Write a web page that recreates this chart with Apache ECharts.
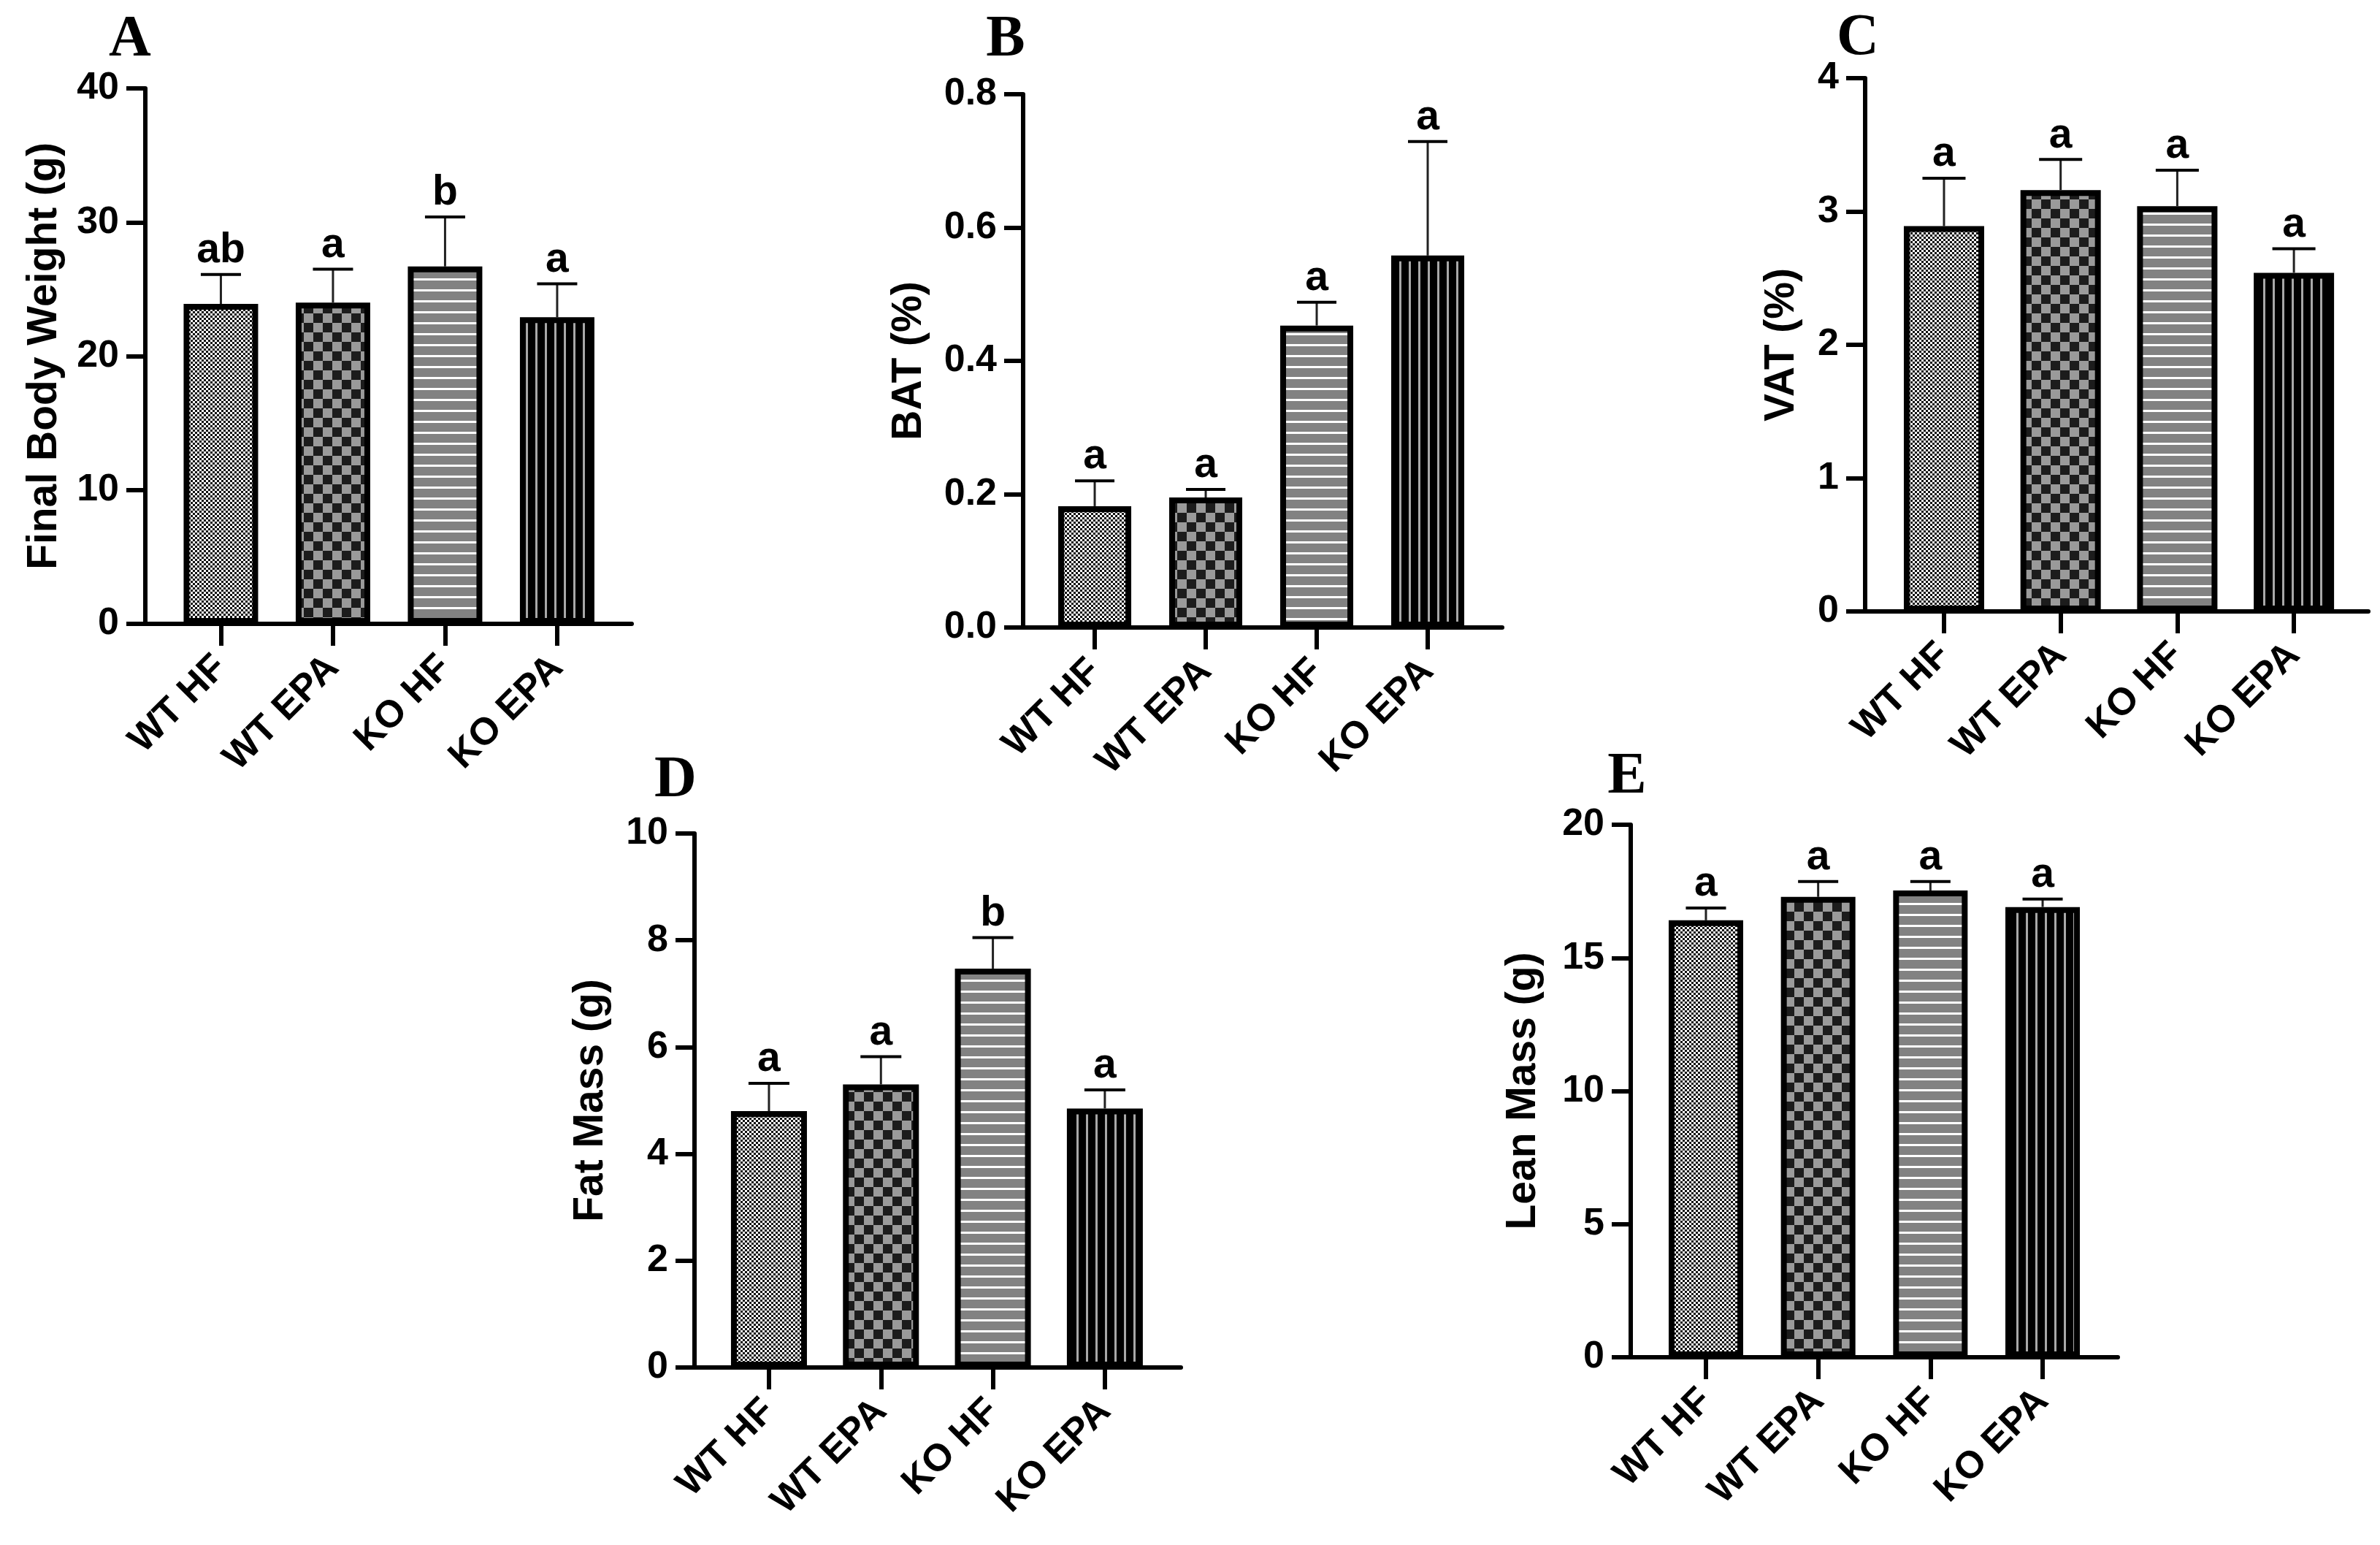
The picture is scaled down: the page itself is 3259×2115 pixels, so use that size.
<!DOCTYPE html>
<html><head><meta charset="utf-8">
<script src="https://cdn.jsdelivr.net/npm/echarts@6/dist/echarts.min.js"></script>
<style>html,body{margin:0;padding:0;background:#fff}#c{width:3259px;height:2115px}</style>
</head><body><div id="c"></div>
<script>
// ---------------- data ----------------
const categories = ['WT HF', 'WT EPA', 'KO HF', 'KO EPA'];

const bodyWeight = [23.9, 24.0, 26.7, 22.9];
const bodyWeightSem = [2.2, 2.5, 3.7, 2.5];
const bodyWeightLetters = ['ab', 'a', 'b', 'a'];

const bat = [0.182, 0.195, 0.453, 0.558];
const batSem = [0.038, 0.012, 0.035, 0.171];
const batLetters = ['a', 'a', 'a', 'a'];

const vat = [2.89, 3.16, 3.04, 2.54];
const vatSem = [0.36, 0.23, 0.27, 0.18];
const vatLetters = ['a', 'a', 'a', 'a'];

const fatMass = [4.80, 5.30, 7.47, 4.85];
const fatMassSem = [0.52, 0.52, 0.58, 0.35];
const fatMassLetters = ['a', 'a', 'b', 'a'];

const leanMass = [16.41, 17.29, 17.53, 16.91];
const leanMassSem = [0.46, 0.58, 0.34, 0.30];
const leanMassLetters = ['a', 'a', 'a', 'a'];

// y axis ranges [min, max, interval] and tick decimals
const yAxisA = [0, 40, 10, 0];
const yAxisB = [0, 0.8, 0.2, 1];
const yAxisC = [0, 4, 1, 0];
const yAxisD = [0, 10, 2, 0];
const yAxisE = [0, 20, 5, 0];

const titles = ['Final Body Weight (g)', 'BAT (%)', 'VAT (%)', 'Fat Mass (g)', 'Lean Mass (g)'];
const panelLetters = ['A', 'B', 'C', 'D', 'E'];

// ---------------- layout ----------------
const panels = [
  { mean: bodyWeight, sem: bodyWeightSem, letters: bodyWeightLetters, y: yAxisA, title: titles[0], tag: panelLetters[0],
    left: 199, top: 121, width: 666, height: 733, xMax: 4.339, offset: 0.674, barW: 102, nameGap: 138, tagX: 178, tagY: 55 },
  { mean: bat, sem: batSem, letters: batLetters, y: yAxisB, title: titles[1], tag: panelLetters[1],
    left: 1401, top: 129, width: 656, height: 730, xMax: 4.316, offset: 0.645, barW: 100, nameGap: 156, tagX: 1377, tagY: 55 },
  { mean: vat, sem: vatSem, letters: vatLetters, y: yAxisC, title: titles[2], tag: panelLetters[2],
    left: 2554, top: 107, width: 689, height: 730, xMax: 4.314, offset: 0.676, barW: 110, nameGap: 114, tagX: 2544, tagY: 53 },
  { mean: fatMass, sem: fatMassSem, letters: fatMassLetters, y: yAxisD, title: titles[3], tag: panelLetters[3],
    left: 951, top: 1141, width: 666, height: 731, xMax: 4.344, offset: 0.665, barW: 104, nameGap: 142, tagX: 925, tagY: 1069 },
  { mean: leanMass, sem: leanMassSem, letters: leanMassLetters, y: yAxisE, title: titles[4], tag: panelLetters[4],
    left: 2233, top: 1129, width: 667, height: 729, xMax: 4.340, offset: 0.670, barW: 102, nameGap: 147, tagX: 2228, tagY: 1064 }
];
const BORDER = 8;

// ---------------- patterns ----------------
function makeTile(w, h, draw) {
  const c = document.createElement('canvas');
  c.width = w; c.height = h;
  draw(c.getContext('2d'));
  return c;
}
const fineChecker = makeTile(6, 6, g => {
  g.fillStyle = '#ffffff'; g.fillRect(0, 0, 6, 6);
  g.fillStyle = '#111111'; g.fillRect(0, 0, 3, 3); g.fillRect(3, 3, 3, 3);
});
const coarseChecker = makeTile(26, 26, g => {
  g.fillStyle = '#9a9a9a'; g.fillRect(0, 0, 26, 26);
  g.fillStyle = '#1c1c1c'; g.fillRect(0, 0, 13, 13); g.fillRect(13, 13, 13, 13);
});
const hStripes = makeTile(10, 15, g => {
  g.fillStyle = '#828282'; g.fillRect(0, 0, 10, 15);
  g.fillStyle = '#ffffff'; g.fillRect(0, 6, 10, 3);
});
const vStripes = makeTile(13, 10, g => {
  g.fillStyle = '#000000'; g.fillRect(0, 0, 13, 10);
  g.fillStyle = '#a8a8a8'; g.fillRect(5, 0, 3, 10);
});
const fills = [fineChecker, coarseChecker, hStripes, vStripes].map(t => ({ image: t, repeat: 'repeat' }));

// ---------------- options ----------------
const FONT = '"Liberation Sans", Arial, sans-serif';
const grids = [], xAxes = [], yAxes = [], series = [], graphics = [];

panels.forEach((p, i) => {
  const pos = categories.map((c, k) => p.offset + k);
  grids.push({ left: p.left, top: p.top, width: p.width, height: p.height, containLabel: false });
  xAxes.push({
    type: 'value', gridIndex: i, min: 0, max: p.xMax,
    splitLine: { show: false },
    axisLine: { show: true, onZero: false, lineStyle: { color: '#000', width: 6 } },
    axisTick: { show: true, customValues: pos, length: 30, lineStyle: { color: '#000', width: 6 } },
    axisLabel: {
      show: true, customValues: pos, rotate: 45, margin: 52,
      fontSize: 52, fontWeight: 'bold', fontFamily: FONT, color: '#000',
      formatter: v => categories[Math.round(v - p.offset)]
    }
  });
  yAxes.push({
    type: 'value', gridIndex: i, min: p.y[0], max: p.y[1], interval: p.y[2],
    splitLine: { show: false },
    axisLine: { show: true, lineStyle: { color: '#000', width: 6 } },
    axisTick: { show: true, length: 26, lineStyle: { color: '#000', width: 6 } },
    axisLabel: {
      margin: 36, fontSize: 52, fontWeight: 'bold', fontFamily: FONT, color: '#000',
      formatter: v => v.toFixed(p.y[3])
    },
    name: p.title, nameLocation: 'middle', nameGap: p.nameGap,
    nameTextStyle: { fontSize: 57, fontWeight: 'bold', fontFamily: FONT, color: '#000', verticalAlign: 'middle' }
  });
  series.push({
    type: 'bar', xAxisIndex: i, yAxisIndex: i, barWidth: p.barW, z: 2,
    data: p.mean.map((m, k) => ({
      value: [pos[k], m],
      itemStyle: { color: fills[k], borderColor: '#000', borderWidth: BORDER }
    })),
    silent: true, animation: false
  });
  const capHalf = (p.barW + BORDER) / 4;
  series.push({
    type: 'custom', xAxisIndex: i, yAxisIndex: i, z: 3,
    data: p.mean.map((m, k) => [pos[k], m, p.sem[k]]),
    encode: { x: 0, y: 1 },
    renderItem: (params, api) => {
      const x = api.value(0), m = api.value(1), s = api.value(2);
      const p0 = api.coord([x, m]);
      const p1 = api.coord([x, m + s]);
      return {
        type: 'group',
        children: [
          { type: 'line', shape: { x1: p0[0], y1: p0[1], x2: p1[0], y2: p1[1] }, style: { stroke: '#222', lineWidth: 3 } },
          { type: 'line', shape: { x1: p1[0] - capHalf, y1: p1[1], x2: p1[0] + capHalf, y2: p1[1] }, style: { stroke: '#000', lineWidth: 4 } },
          { type: 'text', style: { text: p.letters[params.dataIndex], x: p1[0], y: p1[1] - 4,
              align: 'center', verticalAlign: 'bottom', fill: '#000',
              font: 'bold 57px "Liberation Sans", Arial, sans-serif' } }
        ]
      };
    },
    silent: true, animation: false
  });
  graphics.push({
    type: 'text', x: p.tagX, y: p.tagY,
    style: { text: p.tag, align: 'center', verticalAlign: 'middle', fill: '#000',
      font: 'bold 80px "Liberation Serif", "Times New Roman", serif' }
  });
});

const chart = echarts.init(document.getElementById('c'), null, { renderer: 'canvas' });
chart.setOption({
  backgroundColor: '#ffffff',
  animation: false,
  grid: grids, xAxis: xAxes, yAxis: yAxes, series: series,
  graphic: graphics
});
</script></body></html>
